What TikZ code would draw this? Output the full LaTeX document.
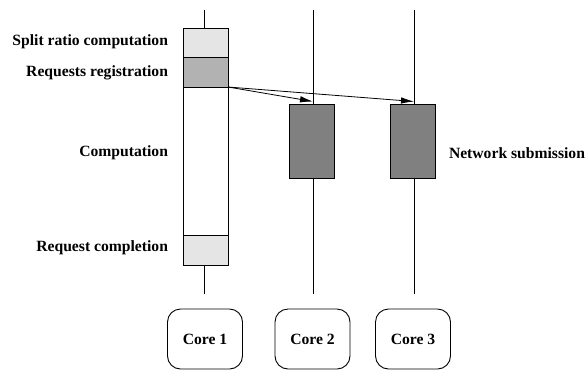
\documentclass[tikz,border=0pt]{standalone}
\usepackage{fontspec}
\setmainfont{Liberation Serif}
\usetikzlibrary{arrows.meta}
\definecolor{lightfill}{gray}{0.9}
\definecolor{midfill}{gray}{0.7}
\definecolor{darkfill}{gray}{0.5}

\begin{document}
\begin{tikzpicture}[x=1bp,y=-1bp]
\tikzstyle{every node}+=[inner sep=0pt, outer sep=0pt, font=\fontsize{15.7}{18}\selectfont\bfseries]
\tikzstyle{slot}=[draw, line width=0.9bp, minimum width=45bp]
\tikzstyle{core}=[draw, rounded corners=13bp, line width=0.9bp, minimum width=75bp, minimum height=60bp]
\tikzstyle{msg}=[-{Latex[length=13bp,width=6.5bp]}, line width=0.8bp]
\useasboundingbox (0,0) rectangle (587,371);
% time lines
\coordinate (top1) at (204,10);
\coordinate (bot1) at (204,294);
\coordinate (top2) at (313,10);
\coordinate (bot2) at (313,294);
\coordinate (top3) at (414,10);
\coordinate (bot3) at (414,294);
\draw [line width=0.8bp] (top2) -- (bot2);
\draw [line width=0.8bp] (top3) -- (bot3);
% core 1
\node [slot, fill=lightfill, minimum height=29bp] (split) at (205.5,42.5) {};
\node [slot, fill=midfill, minimum height=30bp] (reg) at (205.5,72) {};
\node [slot, fill=white, minimum height=148bp] (comp) at (205.5,161) {};
\node [slot, fill=lightfill, minimum height=30bp] (compl) at (205.5,250) {};
\draw [line width=0.8bp] (top1) -- (top1 |- split.north);
\draw [line width=0.8bp] (bot1 |- compl.south) -- (bot1);
% cores 2 and 3
\node [slot, fill=darkfill, minimum height=74bp] (net2) at (312,141) {};
\node [slot, fill=darkfill, minimum height=74bp] (net3) at (413,141) {};
\coordinate (in2) at (313,101.5);
\coordinate (in3) at (414,101.5);
\draw [msg] (reg.south east) -- (in2);
\draw [msg] (reg.south east) -- (in3);
% labels
\node [anchor=east] (lsplit) at (168,42) {Split ratio computation};
\node [anchor=east] (lreg) at (168,73) {Requests registration};
\node [anchor=east] (lcomp) at (168,153) {Computation};
\node [anchor=east] (lcompl) at (168,248) {Request completion};
\node [anchor=west] (lnet) at (449,153) {Network submission};
% cores
\node [core] (core1) at (205,339) {Core 1};
\node [core] (core2) at (312.5,339) {Core 2};
\node [core] (core3) at (413,339) {Core 3};
\end{tikzpicture}
\end{document}
